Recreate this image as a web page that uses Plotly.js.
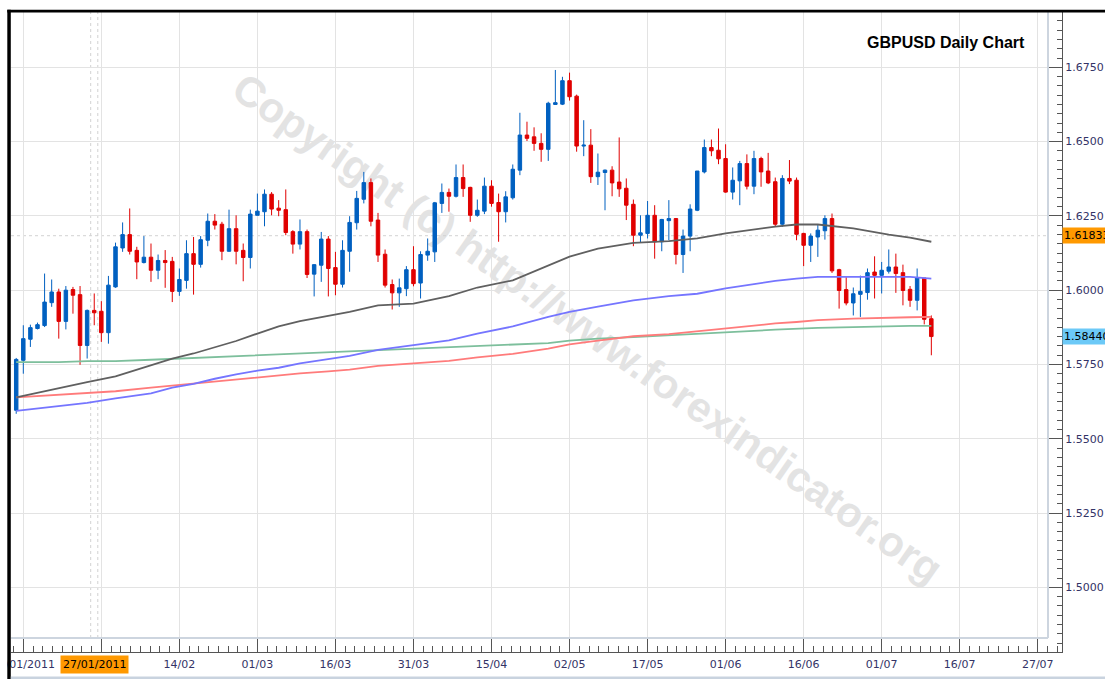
<!DOCTYPE html>
<html>
<head>
<meta charset="utf-8">
<script src="https://cdn.plot.ly/plotly-3.0.1.min.js"></script>
<style>html,body{margin:0;padding:0;background:#fff;}#chart{width:1105px;height:679px;}</style>
</head>
<body>
<div id="chart"></div>
<script>
// ---- Data (GBPUSD daily, 12/01/2011 .. 12/07/2011), bar index -1 .. 128 ----
const firstIndex = -1;
const openP = [1.5596,1.5764,1.5835,1.5871,1.5881,1.5958,1.5994,1.5895,1.6002,1.5985,
1.5814,1.5932,1.5929,1.5857,1.6011,1.6142,1.6187,1.6134,1.6093,1.6111,
1.6067,1.6100,1.6097,1.5996,1.6033,1.6123,1.6087,1.6168,1.6232,1.6222,
1.6131,1.6207,1.6134,1.6110,1.6252,1.6264,1.6323,1.6276,1.6271,1.6197,
1.6155,1.6197,1.6054,1.6084,1.6172,1.6076,1.6020,1.6131,1.6227,1.6306,
1.6362,1.6236,1.6121,1.6019,1.5991,1.6005,1.6069,1.6024,1.6118,1.6129,
1.6292,1.6329,1.6316,1.6379,1.6346,1.6252,1.6266,1.6350,1.6295,1.6264,
1.6311,1.6404,1.6522,1.6516,1.6494,1.6474,1.6625,1.6626,1.6705,1.6653,
1.6485,1.6488,1.6382,1.6396,1.6404,1.6364,1.6343,1.6289,1.6185,1.6191,
1.6252,1.6163,1.6234,1.6241,1.6120,1.6182,1.6269,1.6398,1.6480,1.6471,
1.6443,1.6330,1.6368,1.6426,1.6350,1.6443,1.6401,1.6365,1.6222,1.6376,
1.6370,1.6191,1.6151,1.6179,1.6200,1.6241,1.6069,1.6002,1.5957,1.5986,
1.5992,1.6061,1.6050,1.6064,1.6078,1.6059,1.6003,1.5966,1.6041,1.5904];
const highP = [1.5772,1.5882,1.5884,1.5891,1.6056,1.6036,1.6005,1.6014,1.6011,1.6014,
1.5935,1.5989,1.5963,1.6048,1.6160,1.6228,1.6275,1.6146,1.6182,1.6157,
1.6120,1.6135,1.6112,1.6073,1.6168,1.6179,1.6182,1.6258,1.6256,1.6230,
1.6271,1.6252,1.6157,1.6271,1.6325,1.6339,1.6330,1.6303,1.6339,1.6202,
1.6238,1.6204,1.6087,1.6196,1.6182,1.6129,1.6168,1.6249,1.6334,1.6398,
1.6376,1.6260,1.6137,1.6036,1.6039,1.6081,1.6148,1.6131,1.6174,1.6297,
1.6359,1.6342,1.6423,1.6423,1.6348,1.6305,1.6379,1.6370,1.6325,1.6333,
1.6423,1.6597,1.6567,1.6548,1.6528,1.6634,1.6741,1.6718,1.6732,1.6658,
1.6572,1.6542,1.6460,1.6406,1.6417,1.6514,1.6376,1.6305,1.6252,1.6300,
1.6286,1.6240,1.6303,1.6243,1.6204,1.6289,1.6401,1.6507,1.6507,1.6544,
1.6491,1.6413,1.6435,1.6457,1.6469,1.6449,1.6462,1.6379,1.6387,1.6438,
1.6379,1.6193,1.6191,1.6221,1.6252,1.6258,1.6072,1.6044,1.6009,1.6049,
1.6073,1.6114,1.6095,1.6137,1.6123,1.6086,1.6014,1.6073,1.6041,1.5915];
const lowP = [1.5584,1.5719,1.5809,1.5868,1.5876,1.5944,1.5837,1.5868,1.5921,1.5749,
1.5770,1.5882,1.5826,1.5820,1.6008,1.6129,1.6120,1.6037,1.6090,1.6028,
1.6037,1.6008,1.5960,1.5981,1.6005,1.5985,1.6076,1.6148,1.6204,1.6101,
1.6129,1.6087,1.6030,1.6073,1.6252,1.6215,1.6252,1.6249,1.6185,1.6123,
1.6137,1.6041,1.5979,1.6028,1.5979,1.5983,1.6009,1.6062,1.6204,1.6292,
1.6215,1.6095,1.6009,1.5935,1.5944,1.5980,1.6013,1.5972,1.6099,1.6095,
1.6260,1.6264,1.6312,1.6314,1.6230,1.6247,1.6256,1.6281,1.6163,1.6228,
1.6305,1.6387,1.6502,1.6469,1.6432,1.6435,1.6625,1.6623,1.6638,1.6466,
1.6451,1.6361,1.6354,1.6269,1.6316,1.6314,1.6236,1.6148,1.6159,1.6174,
1.6106,1.6131,1.6168,1.6087,1.6058,1.6131,1.6266,1.6393,1.6451,1.6424,
1.6328,1.6305,1.6286,1.6339,1.6323,1.6348,1.6357,1.6213,1.6213,1.6357,
1.6168,1.6081,1.6095,1.6112,1.6170,1.6058,1.5938,1.5949,1.5915,1.5910,
1.5968,1.5972,1.5989,1.6056,1.5991,1.5949,1.5944,1.5932,1.5885,1.5781];
const closeP = [1.5767,1.5837,1.5874,1.5884,1.5960,1.5994,1.5895,1.6000,1.5983,1.5814,
1.5932,1.5924,1.5857,1.6017,1.6146,1.6187,1.6131,1.6095,1.6111,1.6067,
1.6100,1.6093,1.5996,1.6036,1.6123,1.6087,1.6170,1.6232,1.6219,1.6131,
1.6207,1.6131,1.6110,1.6256,1.6266,1.6323,1.6273,1.6269,1.6194,1.6155,
1.6197,1.6053,1.6086,1.6172,1.6073,1.6020,1.6134,1.6228,1.6309,1.6362,
1.6232,1.6118,1.6017,1.5991,1.6008,1.6069,1.6022,1.6120,1.6131,1.6294,
1.6329,1.6316,1.6379,1.6342,1.6252,1.6269,1.6350,1.6292,1.6264,1.6314,
1.6407,1.6522,1.6511,1.6494,1.6474,1.6629,1.6631,1.6705,1.6651,1.6485,
1.6488,1.6382,1.6397,1.6404,1.6361,1.6341,1.6286,1.6185,1.6193,1.6252,
1.6163,1.6238,1.6241,1.6120,1.6182,1.6273,1.6401,1.6480,1.6469,1.6442,
1.6330,1.6370,1.6426,1.6350,1.6443,1.6398,1.6361,1.6222,1.6376,1.6367,
1.6188,1.6151,1.6182,1.6202,1.6241,1.6065,1.5999,1.5957,1.5988,1.5996,
1.6059,1.6050,1.6067,1.6078,1.6056,1.5999,1.5966,1.6041,1.5902,1.5844];

// moving averages, read at these bar indices
const maIdx   = [-1,5,9,13,18,21,24,27,30,33,36,39,43,46,50,55,60,64,69,74,77,81,86,91,95,99,103,106,109,112,117,122,125,128];
const maBlack = [1.5639,1.5671,1.5691,1.5710,1.5747,1.5770,1.5787,1.5809,1.5829,1.5854,1.5878,1.5896,1.5913,1.5927,1.5949,1.5955,1.5980,1.6009,1.6033,1.6083,1.6113,1.6140,1.6159,1.6165,1.6174,1.6191,1.6205,1.6214,1.6221,1.6221,1.6208,1.6187,1.6177,1.6163];
const maBlue  = [1.5594,1.5609,1.5621,1.5636,1.5653,1.5672,1.5685,1.5702,1.5717,1.5729,1.5739,1.5754,1.5767,1.5779,1.5799,1.5814,1.5831,1.5854,1.5878,1.5910,1.5927,1.5945,1.5966,1.5980,1.5988,1.6006,1.6021,1.6031,1.6039,1.6045,1.6045,1.6045,1.6045,1.6039];
const maRed   = [1.5639,1.5648,1.5654,1.5660,1.5672,1.5679,1.5686,1.5694,1.5700,1.5708,1.5713,1.5720,1.5727,1.5733,1.5745,1.5753,1.5762,1.5774,1.5786,1.5803,1.5818,1.5830,1.5845,1.5852,1.5862,1.5872,1.5880,1.5888,1.5893,1.5899,1.5904,1.5908,1.5909,1.5910];
const maGreen = [1.5758,1.5758,1.5761,1.5761,1.5766,1.5769,1.5772,1.5775,1.5777,1.5780,1.5784,1.5788,1.5792,1.5795,1.5798,1.5802,1.5807,1.5811,1.5817,1.5822,1.5830,1.5837,1.5842,1.5848,1.5851,1.5857,1.5863,1.5867,1.5871,1.5873,1.5876,1.5879,1.5880,1.5880];

// the label at index 11 is hidden by the crosshair date box in the reference
const tickIdx    = [0,11,22,33,44,55,66,77,88,99,110,121,132,143];
const tickLabels = ['13/01/2011','','14/02','01/03','16/03','31/03','15/04','02/05','17/05','01/06','16/06','01/07','16/07','27/07'];

const crossIndex = 10;
const crossLabel = '27/01/2011';
const crossPrice = 1.61833;
const crossPriceLabel = '1.61833';
const lastPriceLabel = '1.58440';
const chartTitle = 'GBPUSD Daily Chart';
const watermark = 'Copyright (c) http://www.forexindicator.org';

// ---- build ----
const idx = openP.map((_, k) => k + firstIndex);
const W = 1105, H = 679, L = 11, R = 43, T = 12, B = 27;
const PW = W - L - R, PH = H - T - B;
const px2x = p => (p - L) / PW;
const px2y = p => (H - B - p) / PH;

const tickFont = {family: 'DejaVu Sans', size: 11, color: '#333366'};
const axisCol = '#555555';

const traces = [
  {type: 'scatter', mode: 'lines', x: maIdx, y: maGreen, line: {color: '#7dbf9c', width: 1.8}, hoverinfo: 'skip'},
  {type: 'scatter', mode: 'lines', x: maIdx, y: maRed, line: {color: '#ff7b7b', width: 1.8}, hoverinfo: 'skip'},
  {type: 'scatter', mode: 'lines', x: maIdx, y: maBlue, line: {color: '#7575ff', width: 1.8}, hoverinfo: 'skip'},
  {type: 'scatter', mode: 'lines', x: maIdx, y: maBlack, line: {color: '#606060', width: 1.8}, hoverinfo: 'skip'},
  {type: 'candlestick', x: idx, open: openP, high: highP, low: lowP, close: closeP,
   increasing: {line: {color: '#0060c0', width: 1}, fillcolor: '#0060c0'},
   decreasing: {line: {color: '#e00000', width: 1}, fillcolor: '#e00000'},
   whiskerwidth: 0, hoverinfo: 'skip'}
];

const shapes = [
  // watermark (below traces)
  {type: 'rect', xref: 'paper', yref: 'paper', x0: px2x(585), x1: px2x(595), y0: px2y(330), y1: px2y(320),
   line: {width: 0}, fillcolor: 'rgba(0,0,0,0)', layer: 'below',
   label: {text: watermark, textangle: 35, textposition: 'middle center',
           font: {family: 'Liberation Sans', size: 42, color: '#e3e3e3', weight: 'bold'}}},
  // crosshair
  {type: 'line', xref: 'x', yref: 'paper', x0: crossIndex - 0.5, x1: crossIndex - 0.5, y0: px2y(638), y1: 1,
   line: {color: '#d2d2d2', width: 1, dash: '3px,3px'}, layer: 'below'},
  {type: 'line', xref: 'x', yref: 'paper', x0: crossIndex + 0.5, x1: crossIndex + 0.5, y0: px2y(638), y1: 1,
   line: {color: '#d2d2d2', width: 1, dash: '3px,3px'}, layer: 'below'},
  {type: 'line', xref: 'paper', yref: 'y', x0: 0, x1: px2x(1048), y0: crossPrice, y1: crossPrice,
   line: {color: '#d2d2d2', width: 1, dash: '3px,3px'}, layer: 'below'},
  // plot frame (right / bottom)
  {type: 'line', xref: 'paper', yref: 'paper', x0: px2x(1048), x1: px2x(1048), y0: px2y(638), y1: 1,
   line: {color: '#cdd5df', width: 2}},
  {type: 'line', xref: 'paper', yref: 'paper', x0: 0, x1: px2x(1048), y0: px2y(638), y1: px2y(638),
   line: {color: '#cdd5df', width: 2}},
  // window border
  {type: 'rect', xref: 'paper', yref: 'paper', x0: px2x(0), x1: px2x(7.3), y0: px2y(679), y1: px2y(0),
   line: {width: 0}, fillcolor: '#ffffff'},
  {type: 'rect', xref: 'paper', yref: 'paper', x0: px2x(7.3), x1: px2x(10.8), y0: px2y(679), y1: px2y(9.8),
   line: {width: 0}, fillcolor: '#000000'},
  {type: 'rect', xref: 'paper', yref: 'paper', x0: px2x(7.3), x1: px2x(1105), y0: px2y(12.6), y1: px2y(9.8),
   line: {width: 0}, fillcolor: '#000000'},
  {type: 'rect', xref: 'paper', yref: 'paper', x0: px2x(10.8), x1: px2x(1105), y0: px2y(679), y1: px2y(676.5),
   line: {width: 0}, fillcolor: '#c9d3df'}
];

const annotations = [
  {text: '<b>' + chartTitle + '</b>', xref: 'paper', yref: 'paper', x: px2x(1027), y: px2y(42),
   xanchor: 'right', yanchor: 'middle', showarrow: false,
   font: {family: 'Liberation Sans', size: 16, color: '#000000'}},
  {text: crossPriceLabel, xref: 'paper', yref: 'y', x: 1, y: crossPrice, xanchor: 'left', yanchor: 'middle',
   showarrow: false, bgcolor: '#ff9900', borderpad: 1, font: {family: 'DejaVu Sans', size: 11, color: '#000000'}},
  {text: lastPriceLabel, xref: 'paper', yref: 'y', x: 1, y: closeP[closeP.length - 1], xanchor: 'left', yanchor: 'middle',
   showarrow: false, bgcolor: '#6cc9f7', borderpad: 1, font: {family: 'DejaVu Sans', size: 11, color: '#000000'}},
  {text: crossLabel, xref: 'x', yref: 'paper', x: crossIndex, y: px2y(664.5), xanchor: 'center', yanchor: 'middle',
   showarrow: false, bgcolor: '#ff9900', borderpad: 2, font: {family: 'DejaVu Sans', size: 11, color: '#000000'}}
];

const layout = {
  width: W, height: H,
  margin: {l: L, r: R, t: T, b: B, pad: 0},
  paper_bgcolor: '#ffffff', plot_bgcolor: '#ffffff',
  showlegend: false, hovermode: false, dragmode: false,
  xaxis: {
    range: [-1.734, 146.42], tickmode: 'array', tickvals: tickIdx, ticktext: tickLabels,
    ticks: 'inside', ticklen: 14, tickwidth: 1, tickcolor: axisCol,
    showgrid: true, gridcolor: '#e3e3e3', gridwidth: 1,
    showline: true, linecolor: axisCol, linewidth: 1, zeroline: false,
    tickfont: tickFont, ticklabeloverflow: 'allow', ticklabelstandoff: 2,
    rangeslider: {visible: false}, fixedrange: true,
    minor: {ticks: 'inside', ticklen: 6, tickcolor: axisCol, tickwidth: 1, tickmode: 'linear', tick0: 0, dtick: 1.375, showgrid: false}
  },
  yaxis: {
    side: 'right', range: [1.47825, 1.69361], tickmode: 'linear', tick0: 1.5, dtick: 0.025, tickformat: '.4f',
    ticks: 'inside', ticklen: 14, tickwidth: 1, tickcolor: axisCol,
    showgrid: true, gridcolor: '#e3e3e3', gridwidth: 1,
    showline: true, linecolor: axisCol, linewidth: 1, zeroline: false,
    tickfont: tickFont, ticklabeloverflow: 'allow', fixedrange: true,
    minor: {ticks: 'inside', ticklen: 5, tickcolor: axisCol, tickwidth: 1, tickmode: 'linear', tick0: 1.5, dtick: 0.003125, showgrid: false}
  },
  shapes: shapes,
  annotations: annotations
};

Plotly.newPlot('chart', traces, layout, {displayModeBar: false, staticPlot: true});
</script>
</body>
</html>
